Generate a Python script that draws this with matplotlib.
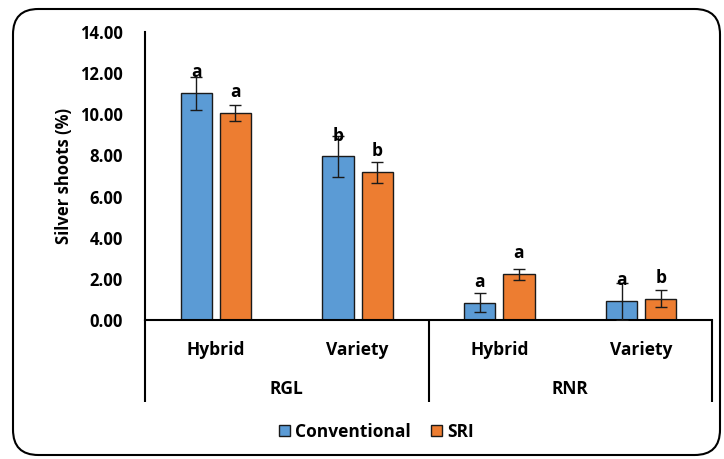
import matplotlib.pyplot as plt
import matplotlib as mpl
from matplotlib.patches import FancyBboxPatch
import numpy as np

mpl.rc('font', family=['Open Sans', 'DejaVu Sans'], weight='bold')

# Silver shoot incidence by site / crop type and cultivation method
sites = ['RGL', 'RNR']
crops = ['Hybrid', 'Variety', 'Hybrid', 'Variety']
conventional = [11.02, 7.95, 0.85, 0.91]
conventional_err = [0.80, 0.98, 0.48, 0.90]
sri = [10.05, 7.18, 2.22, 1.03]
sri_err = [0.40, 0.50, 0.28, 0.42]
conventional_letters = ['a', 'b', 'a', 'a']
sri_letters = ['a', 'b', 'a', 'b']

blue = '#5B9BD5'
orange = '#ED7D31'

fig = plt.figure(figsize=(7.24, 4.59), dpi=100)
ax = fig.add_axes([145/724, 1-320/459, (712-145)/724, 288/459])

x = np.arange(len(crops))
w = 0.22
off = 0.138
ax.bar(x - off, conventional, w, color=blue, edgecolor='#1a1a1a', lw=1,
       label='Conventional', zorder=2)
ax.bar(x + off, sri, w, color=orange, edgecolor='#1a1a1a', lw=1,
       label='SRI', zorder=2)
ax.errorbar(x - off, conventional, yerr=conventional_err, fmt='none',
            ecolor='#1a1a1a', elinewidth=1, capsize=4, capthick=1, zorder=3)
ax.errorbar(x + off, sri, yerr=sri_err, fmt='none',
            ecolor='#1a1a1a', elinewidth=1, capsize=4, capthick=1, zorder=3)

# significance letters above each bar
for xi, v, t in zip(x - off, conventional, conventional_letters):
    ax.annotate(t, (xi, v), xytext=(0, 15), textcoords='offset points',
                ha='center', va='center', fontsize=12.5, fontweight='bold', zorder=4)
for xi, v, t in zip(x + off, sri, sri_letters):
    ax.annotate(t, (xi, v), xytext=(0, 15), textcoords='offset points',
                ha='center', va='center', fontsize=12.5, fontweight='bold', zorder=4)

ax.set_xlim(-0.5, len(crops) - 0.5)
ax.set_ylim(0, 14)
ax.set_yticks(np.arange(0, 15, 2))
ax.set_yticklabels(['%.2f' % v for v in np.arange(0, 15, 2)], fontsize=12)
ax.tick_params(axis='y', length=0, pad=16)
ax.set_xticks([])
for s in ['top', 'right']:
    ax.spines[s].set_visible(False)
ax.spines['left'].set_linewidth(1.5)
ax.spines['bottom'].set_linewidth(1.5)
ax.set_ylabel('Silver shoots (%)', fontsize=12, fontweight='bold', labelpad=5)

# two-level category axis
tr = ax.get_xaxis_transform()
for xi, c in zip(x, crops):
    ax.text(xi, -0.105, c, transform=tr, ha='center', va='center',
            fontsize=12.5, fontweight='bold')
for i, s in enumerate(sites):
    ax.text(2*i + 0.5, -0.24, s, transform=tr, ha='center', va='center',
            fontsize=12.5, fontweight='bold')
for xb in [-0.5, 1.5, 3.5]:
    ax.plot([xb, xb], [0, -0.285], transform=tr, color='black', lw=1.5,
            clip_on=False, solid_capstyle='butt')

fig.legend(loc='center', bbox_to_anchor=(0.52, 1-432/459), ncol=2, frameon=False,
           fontsize=12.5, handlelength=0.6, handleheight=0.6, handletextpad=0.3,
           columnspacing=1.2)

# rounded chart border
border = FancyBboxPatch((13/724, 1-455/459), (720-13)/724, (455-9)/459,
                        boxstyle='round,pad=0,rounding_size=0.035',
                        transform=fig.transFigure, fill=False, ec='black', lw=1.5,
                        mutation_aspect=724/459)
fig.patches.append(border)

fig.savefig('out.png', dpi=100)
